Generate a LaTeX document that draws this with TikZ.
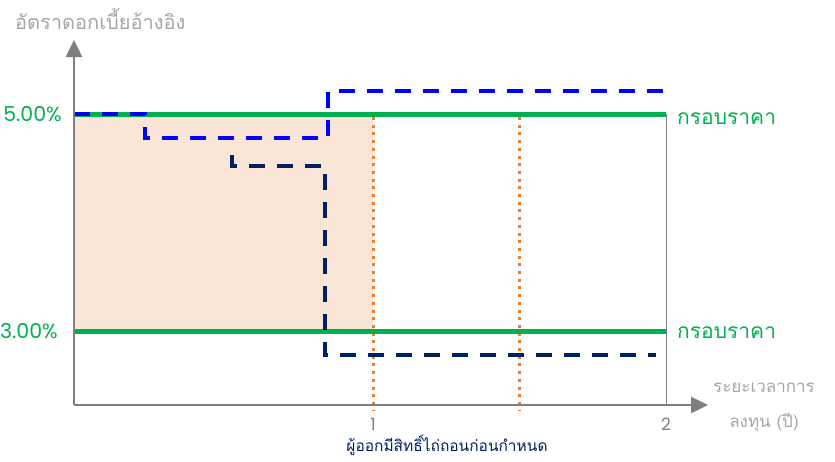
\documentclass[tikz,border=0pt]{standalone}
\usepackage{fontspec}
\setmainfont{Poppins}
\newfontfamily\thaifont[Script=Thai]{Loma}
\usetikzlibrary{arrows.meta}
\definecolor{bandgreen}{HTML}{00B050}
\definecolor{callblue}{HTML}{0000FF}
\definecolor{callnavy}{HTML}{002060}
\definecolor{calldot}{HTML}{ED7D31}
\definecolor{zonepeach}{HTML}{FBE5D6}
\definecolor{axisgray}{HTML}{7F7F7F}
\definecolor{labelgray}{HTML}{A6A6A6}

\begin{document}
\begin{tikzpicture}[x=1pt,y=-1pt,
		axis/.style={draw=axisgray,line width=2.5pt,-{Triangle[length=17pt,width=16pt]}},
		band/.style={draw=bandgreen,line width=5pt},
		callpath/.style={line width=4pt,dash pattern=on 16pt off 12pt},
		calldate/.style={draw=calldot,line width=3pt,dash pattern=on 3pt off 4.7pt},
		pct/.style={text=bandgreen,font=\fontsize{20.5}{24}\selectfont,anchor=base east,inner sep=0pt},
		bandlabel/.style={text=bandgreen,font=\thaifont\fontsize{21}{24}\selectfont,anchor=base west,inner sep=0pt},
		axislabel/.style={text=labelgray,font=\thaifont\fontsize{17}{20}\selectfont,inner sep=0pt},
		tick/.style={text=axisgray,font=\fontsize{17}{20}\selectfont,anchor=base,inner sep=0pt}]
				\useasboundingbox (0,0) rectangle (835,461);
				
				\coordinate (O) at (74,405);
				\coordinate (ytop) at (74,40);
				\coordinate (xend) at (708,405);
				
				% zone before the call date
				\fill[zonepeach] (74,114) rectangle (373,331);
				\draw[axisgray,line width=1pt] (666,114) -- (666,405);
				
				\draw[calldate] (373,117) -- (373,410);
				\draw[calldate] (519,117) -- (519,410);
				
				\draw[band] (74,114) -- (666,114);
				\draw[band] (74,331) -- (666,331);
				
				\draw[callpath,callblue] (74,114) -- (145,114) -- (145,138) -- (328,138) -- (328,91) -- (665,91);
				\draw[callpath,callnavy] (232,155) -- (232,166) -- (325,166) -- (325,355) -- (656,355);
				
				\draw[axis] (O) -- (ytop);
				\draw[axis] (O) -- (xend);
				
				\node[pct] (high) at (62,121) {5.00\%};
				\node[pct] (low) at (58,338) {3.00\%};
				\node[bandlabel] (highband) at (677,124) {กรอบราคา};
				\node[bandlabel] (lowband) at (677,338) {กรอบราคา};
				
				\node[tick] (one) at (373,430) {1};
				\node[tick] (two) at (666,430) {2};
				
				\node[axislabel,font=\thaifont\fontsize{20}{24}\selectfont,anchor=base west] (ytitle) at (15,29) {อัตราดอกเบี้ยอ้างอิง};
				\node[axislabel,anchor=base] (xtitle) at (764,392) {ระยะเวลาการ};
				\node[axislabel,anchor=base] (xunit) at (764,427) {ลงทุน (ปี)};
				
				\node[text=callnavy,font=\thaifont\fontsize{15.5}{18}\selectfont,anchor=base,inner sep=0pt] (note) at (447,451) {ผู้ออกมีสิทธิ์ไถ่ถอนก่อนกำหนด};
\end{tikzpicture}
\end{document}
